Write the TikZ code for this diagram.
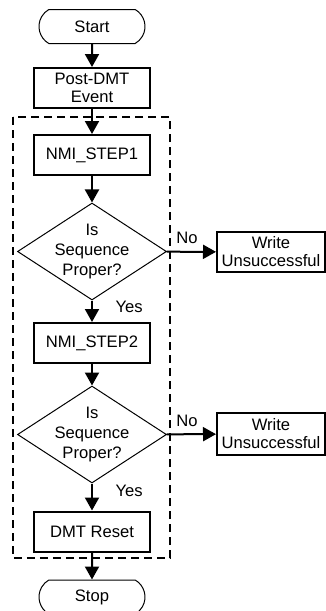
\documentclass[tikz,border=0pt]{standalone}
\usepackage{fontspec}
\setmainfont{Liberation Sans}
\usetikzlibrary{shapes.geometric,shapes.misc,arrows.meta}

\begin{document}
\begin{tikzpicture}[x=0.5pt,y=-0.5pt,>={Triangle[length=6.5pt,width=7pt]},
    font=\fontsize{8.3}{9}\selectfont,
    term/.style={draw,rounded rectangle,rounded rectangle arc length=120,line width=0.5pt,minimum width=53pt,minimum height=17pt,inner sep=0pt},
    proc/.style={draw,rectangle,line width=1pt,minimum width=58pt,minimum height=20pt,inner sep=0pt,align=center},
    decision/.style={draw,diamond,line width=0.5pt,minimum width=74.5pt,minimum height=48.5pt,inner sep=0pt,
        label={[align=center,font=\fontsize{8.3}{10}\selectfont]center:Is\\Sequence\\Proper?}},
    flow/.style={->,line width=1pt}]
    \useasboundingbox (0,0) rectangle (326,611);

    \node[term] (start) at (92,26.5) {Start};
    \node[proc] (post) at (92,88) {Post-DMT\\Event};
    \node[proc] (step1) at (92,155) {NMI\_STEP1};
    \node[decision] (q1) at (92,251.5) {};
    \node[proc,minimum width=54pt] (w1) at (271,252) {Write\\Unsuccessful};
    \node[proc] (step2) at (92,343) {NMI\_STEP2};
    \node[decision] (q2) at (92,434.5) {};
    \node[proc,minimum width=54pt,minimum height=21pt] (w2) at (271,434) {Write\\Unsuccessful};
    \node[proc] (reset) at (92,531.5) {DMT Reset};
    \node[term] (stop) at (92,597) {Stop};

    % the NMI sequence
    \draw[line width=1pt,dash pattern=on 4pt off 2.5pt] (13,117) rectangle (170,558);

    \draw[flow] (start) -- (post);
    \draw[flow] (post) -- (step1);
    \draw[flow] (step1) -- (q1);
    \draw[flow] (q1) -- node[pos=0.41,above] {No} (w1);
    \draw[flow] (q1) -- node[pos=0.3,right=8pt] {Yes} (step2);
    \draw[flow] (step2) -- (q2);
    \draw[flow] (q2) -- node[pos=0.41,above] {No} (w2);
    \draw[flow] (q2) -- node[pos=0.28,right=8pt] {Yes} (reset);
    \draw[flow] (reset) -- (stop);
\end{tikzpicture}
\end{document}
